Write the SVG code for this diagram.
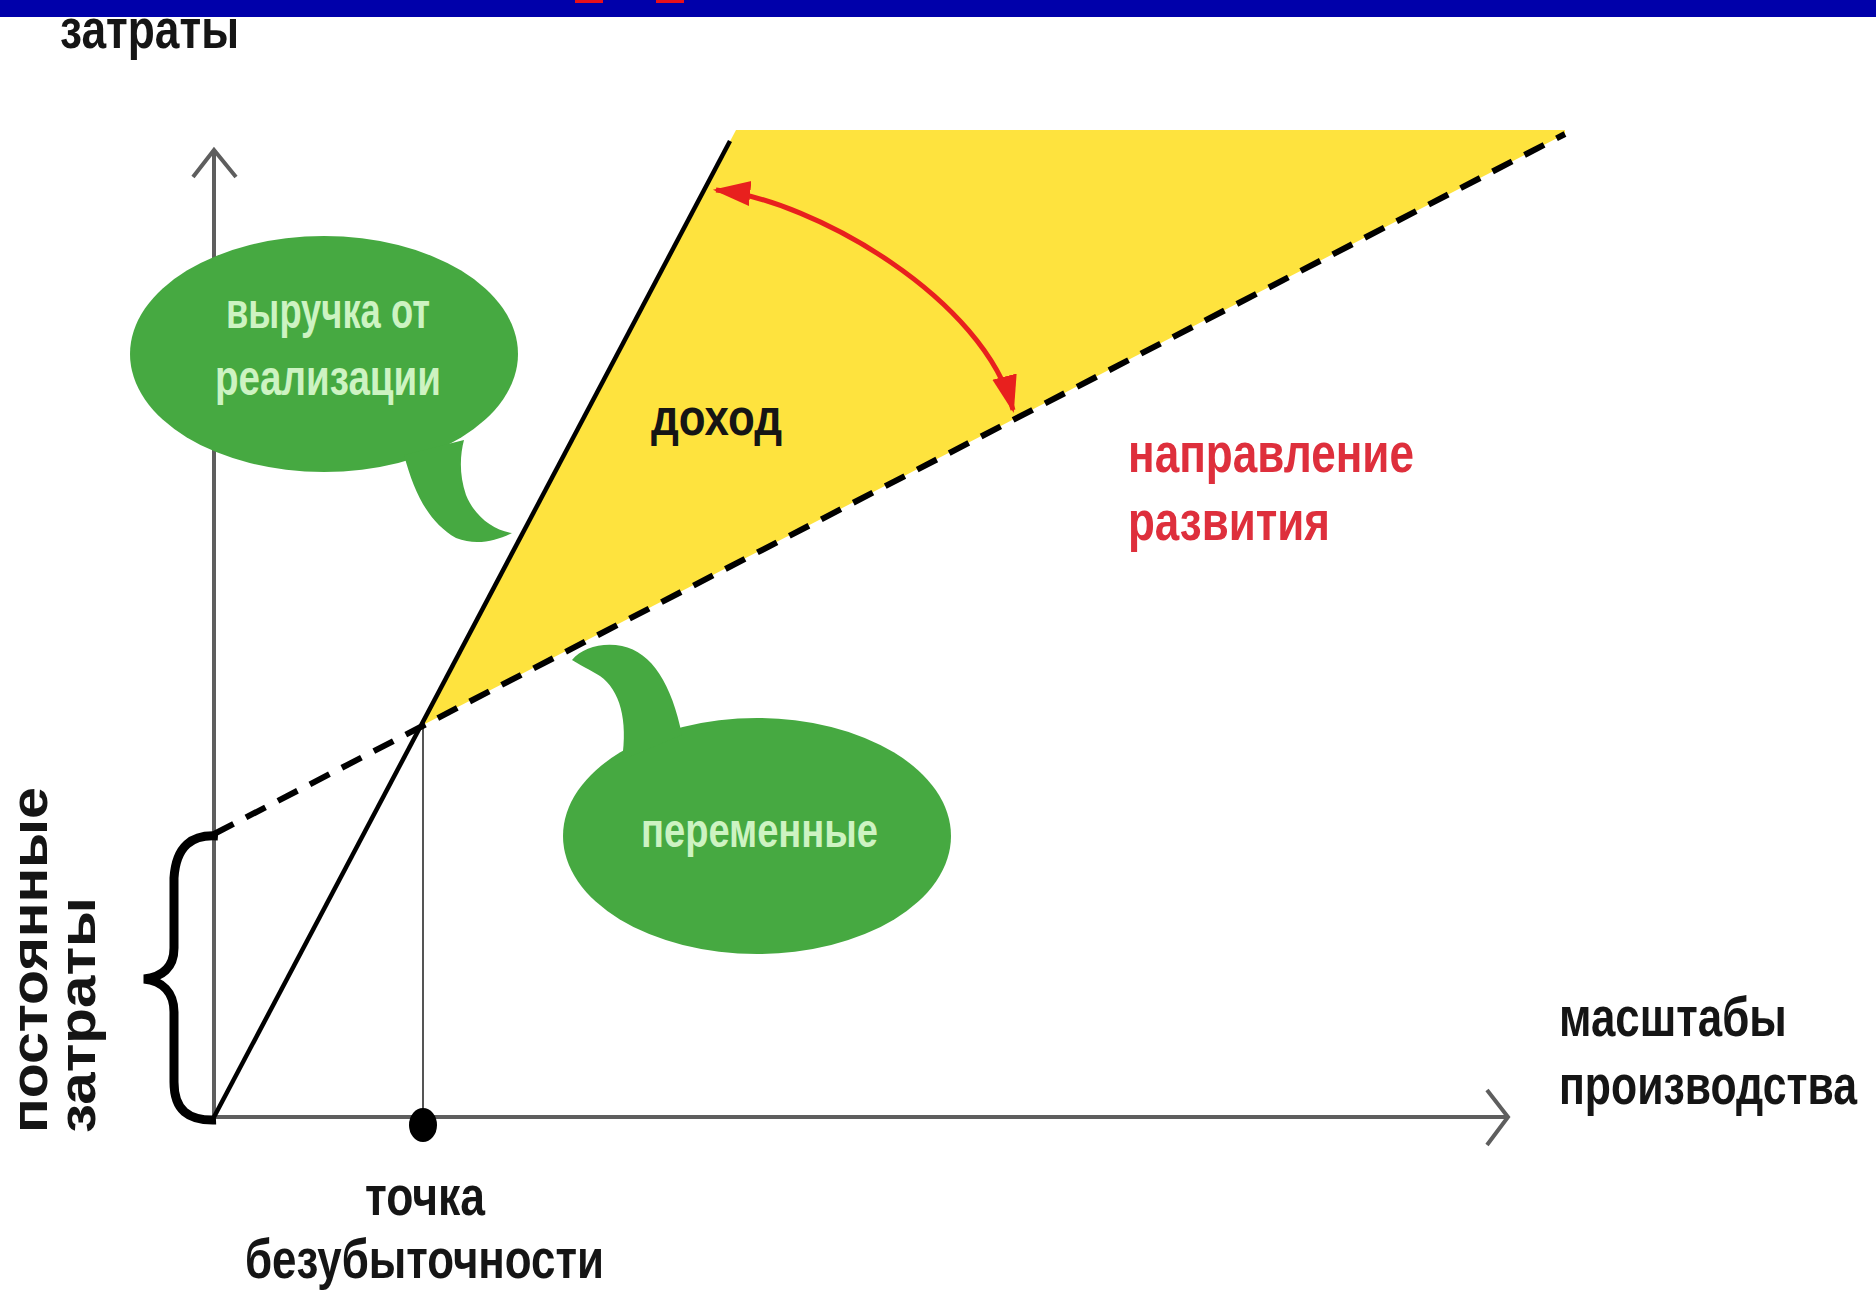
<svg xmlns="http://www.w3.org/2000/svg" width="1876" height="1297" viewBox="0 0 1876 1297">
<style>
  .lbl { font-family: "Liberation Sans", Arial, sans-serif; font-weight: bold; }
  .dark { fill: #151515; }
  .bub { fill: #cdf3c2; }
  .red { fill: #de2f3c; }
  .green { fill: #46a941; }
  .axis { stroke: #5e5e5e; stroke-width: 4; fill: none; }
</style>
<defs>
  <marker id="redhead" viewBox="0 0 12 8" refX="11" refY="4" markerWidth="7.5" markerHeight="5.5" markerUnits="strokeWidth" orient="auto-start-reverse">
    <path d="M0,0 L12,4 L0,8 z" fill="#e8201e"/>
  </marker>
</defs>
<rect x="0" y="0" width="1876" height="1297" fill="#ffffff"/>
<g id="header">
  <rect x="0" y="0" width="1876" height="17" fill="#0000aa"/>
  <rect x="575" y="0" width="28" height="3" fill="#e8101a"/>
  <rect x="656" y="0" width="28" height="3" fill="#e8101a"/>
</g>
<g id="profit-area">
  <polygon points="421,726 736,130 1565,130 1565,134" fill="#fee33e"/>
</g>
<g id="connectors">
  <line class="axis" x1="214" y1="1117" x2="214" y2="150"/>
  <polyline class="axis" points="193,177 214,150 236,177"/>
  <line class="axis" x1="214" y1="1117" x2="1508" y2="1117"/>
  <polyline class="axis" points="1487,1090 1508,1117 1487,1145"/>
  <line x1="423" y1="726" x2="423" y2="1117" stroke="#555" stroke-width="2"/>
  <line x1="214" y1="1117" x2="730" y2="141" stroke="#000" stroke-width="4.5"/>
  <line x1="214" y1="834" x2="1565" y2="134" stroke="#000" stroke-width="6" stroke-dasharray="22 14"/>
  <path d="M218,836 C192,834 176,846 174,878 L174,948 C174,968 162,977 144,979 C162,981 174,992 174,1012 L174,1082 C174,1110 188,1121 216,1120" fill="none" stroke="#000" stroke-width="9"/>
  <path d="M716,190 C815,200 985,300 1013,410" fill="none" stroke="#e8201e" stroke-width="5" marker-start="url(#redhead)" marker-end="url(#redhead)"/>
  <ellipse cx="423" cy="1125" rx="14" ry="17" fill="#000"/>
</g>
<g id="bubble-revenue">
  <ellipse class="green" cx="324" cy="354" rx="194" ry="118"/>
  <path class="green" d="M404,455 C414,492 428,522 456,538 C476,546 496,541 512,533 C492,530 474,515 466,495 C459,475 460,455 464,440 Z"/>
  <text class="lbl bub" x="226" y="328" font-size="50" textLength="204" lengthAdjust="spacingAndGlyphs">выручка от</text>
  <text class="lbl bub" x="215" y="395" font-size="50" textLength="226" lengthAdjust="spacingAndGlyphs">реализации</text>
</g>
<g id="bubble-variable">
  <ellipse class="green" cx="757" cy="836" rx="194" ry="118"/>
  <path class="green" d="M622,760 C628,720 620,690 600,676 C590,670 578,664 572,660 C582,648 602,642 622,646 C652,652 672,685 682,735 Z"/>
  <text class="lbl bub" x="641" y="847" font-size="48" textLength="237" lengthAdjust="spacingAndGlyphs">переменные</text>
</g>
<g id="label-costs">
  <text class="lbl dark" x="60" y="48" font-size="56" textLength="179" lengthAdjust="spacingAndGlyphs">затраты</text>
</g>
<g id="label-income">
  <text class="lbl dark" x="651" y="435" font-size="52" textLength="131" lengthAdjust="spacingAndGlyphs">доход</text>
</g>
<g id="label-direction">
  <text class="lbl red" x="1128" y="472" font-size="56" textLength="286" lengthAdjust="spacingAndGlyphs">направление</text>
  <text class="lbl red" x="1128" y="540" font-size="56" textLength="202" lengthAdjust="spacingAndGlyphs">развития</text>
</g>
<g id="label-scale">
  <text class="lbl dark" transform="translate(1559,1036) scale(0.78,1)" x="0" y="0" font-size="56" textLength="292" lengthAdjust="spacingAndGlyphs">масштабы</text>
  <text class="lbl dark" transform="translate(1559,1104) scale(0.78,1)" x="0" y="0" font-size="56" textLength="382" lengthAdjust="spacingAndGlyphs">производства</text>
</g>
<g id="label-breakeven">
  <text class="lbl dark" x="365" y="1215" font-size="56" textLength="120" lengthAdjust="spacingAndGlyphs">точка</text>
  <text class="lbl dark" x="245" y="1278" font-size="56" textLength="359" lengthAdjust="spacingAndGlyphs">безубыточности</text>
</g>
<g id="label-fixed">
  <text class="lbl dark" transform="translate(47,1133) rotate(-90)" x="0" y="0" font-size="52" textLength="346" lengthAdjust="spacingAndGlyphs">постоянные</text>
  <text class="lbl dark" transform="translate(95,1133) rotate(-90)" x="0" y="0" font-size="52" textLength="236" lengthAdjust="spacingAndGlyphs">затраты</text>
</g>
</svg>
